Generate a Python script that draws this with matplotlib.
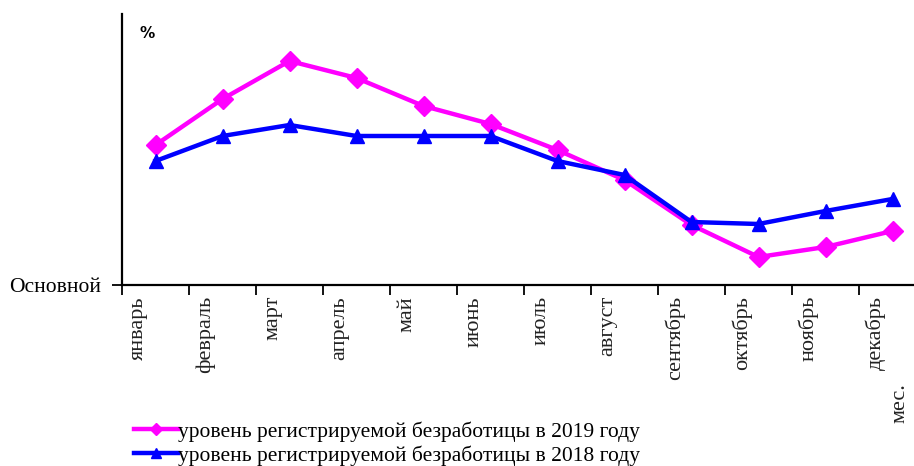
import matplotlib
matplotlib.use('Agg')
from matplotlib import pyplot as plt
from matplotlib.lines import Line2D

# months on x axis
months = ['январь', 'февраль', 'март', 'апрель', 'май', 'июнь',
          'июль', 'август', 'сентябрь', 'октябрь', 'ноябрь', 'декабрь']

# unemployment level (no scale shown on the chart)
rate_2019 = [1.40, 1.86, 2.24, 2.07, 1.79, 1.61, 1.35, 1.05, 0.60, 0.28, 0.38, 0.54]
rate_2018 = [1.24, 1.49, 1.60, 1.49, 1.49, 1.49, 1.24, 1.10, 0.63, 0.61, 0.74, 0.86]

label_2019 = 'уровень регистрируемой безработицы в 2019 году'
label_2018 = 'уровень регистрируемой безработицы в 2018 году'

serif = 'Liberation Serif'

fig = plt.figure(figsize=(9.14, 4.66), dpi=100)
# the plot area runs past the right edge of the picture, like the original
ax = fig.add_axes([122 / 914, 1 - 285 / 466, 804 / 914, 271 / 466])

x = list(range(len(months)))
ax.plot(x, rate_2019, color='#ff00ff', lw=3.2, marker='D', ms=10, zorder=3)
ax.plot(x, rate_2018, color='#0000ff', lw=3.2, marker='^', ms=10, zorder=4)

ax.set_xlim(-0.5, 11.5)
ax.set_ylim(0, 2.71)

# tick marks between months, labels sit slightly left of each point
ax.set_xticks([i - 0.5 for i in range(13)])
ax.set_xticklabels([])
ax.set_xticks([i - 0.25 for i in x], minor=True)
ax.set_xticklabels(months, minor=True, rotation=90, va='top', ha='center',
                   fontsize=16, family=serif, color='#222222')
ax.tick_params(axis='x', which='major', direction='out', length=7, width=1.3)
ax.tick_params(axis='x', which='minor', length=0, pad=8)

ax.set_yticks([0])
ax.set_yticklabels(['Основной'], fontsize=15.5, family=serif)
ax.tick_params(axis='y', direction='out', length=7, width=1.3, pad=8)

for side in ['top', 'right']:
    ax.spines[side].set_visible(False)
for side in ['left', 'bottom']:
    ax.spines[side].set_linewidth(1.6)
    ax.spines[side].set_color('black')

ax.text(140 / 914, 1 - 34 / 466, '%', transform=fig.transFigure,
        fontsize=11, fontweight='bold', va='center', ha='left')

fig.text(900 / 914, 1 - 383 / 466, 'мес.', rotation=90, va='top', ha='center',
         fontsize=16, family=serif, color='#222222')

handles = [Line2D([], [], color='#ff00ff', lw=3.2, marker='D', ms=6),
           Line2D([], [], color='#0000ff', lw=3.2, marker='^', ms=7)]
fig.legend(handles, [label_2019, label_2018], loc='upper left',
           bbox_to_anchor=(134 / 914, 1 - 421 / 466), frameon=False,
           prop={'family': serif, 'size': 15.5}, handlelength=2.05,
           handletextpad=0.0, labelspacing=0.18, borderaxespad=0, borderpad=0)

fig.savefig('out.png', dpi=100)
